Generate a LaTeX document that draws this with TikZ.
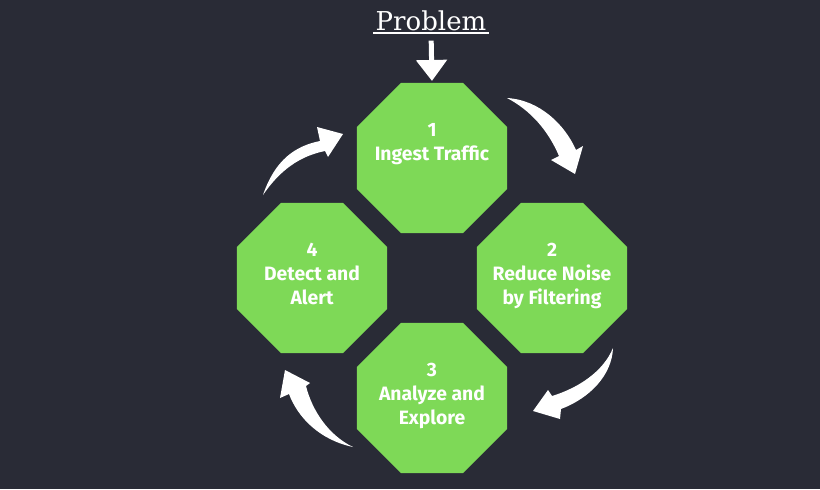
\documentclass[tikz,border=0pt]{standalone}
\usepackage{fontspec}
\setmainfont{Fira Sans}
\newfontfamily\titlefont{DejaVu Serif}
\usetikzlibrary{positioning,shapes.geometric,arrows.meta}
\definecolor{bgdark}{HTML}{292B36}
\definecolor{stepgreen}{HTML}{7ED957}
\tikzset{
  octa/.style={regular polygon, regular polygon sides=8, minimum size=121.8pt, fill=stepgreen, draw=none, inner sep=0pt, outer sep=0pt},
  steplabel/.style={anchor=north, align=center, text=white, font=\bfseries\fontsize{14.5}{18}\selectfont, inner sep=0pt},
  turnarrow/.style={fill=white, draw=none}
}
\begin{document}
\begin{tikzpicture}[x=0.75pt, y=-0.75pt, node distance=90pt and 90pt, on grid]

% \draw[step=20,gray,very thin] (0,0) grid (820,489);
        \fill[bgdark] (0,0) rectangle (820,489);
        \useasboundingbox (0,0) rectangle (820,489);

        \node[octa] (o1) at (432,158) {};
        \node[octa, below right=of o1] (o2) {};
        \node[octa, below left=of o2] (o3) {};
        \node[octa, above left=of o3] (o4) {};

        \node[steplabel] (t1) at ([yshift=-30pt]o1.north) {1\\Ingest Traffic};
        \node[steplabel] (t2) at ([yshift=-30pt]o2.north) {2\\Reduce Noise\\by Filtering};
        \node[steplabel] (t3) at ([yshift=-30pt]o3.north) {3\\Analyze and\\Explore};
        \node[steplabel] (t4) at ([yshift=-30pt]o4.north) {4\\Detect and\\Alert};

        \node (problem) [anchor=base, inner sep=0pt, text=white, font=\titlefont\fontsize{19.5}{22}\selectfont] at (431,30) {Problem};
        \draw[white, line width=1.5pt] ([xshift=-1.5pt,yshift=-2.6pt]problem.base west) -- ([xshift=1.5pt,yshift=-2.6pt]problem.base east);
        \draw[white, line width=3.75pt, -{Triangle[width=22.5pt,length=15.75pt]}, shorten <=7.5pt, shorten >=1.5pt] (problem.south) -- (o1.north);

        % curved arrows round the cycle
        \fill[turnarrow] (507,98) .. controls (540,100) and (565,125) .. (576,150) -- (583,146) -- (575,174) -- (551,160) -- (559,156) .. controls (548,130) and (530,110) .. cycle;
        \fill[turnarrow] (613,348) .. controls (612,375) and (590,398) .. (561,409) -- (560,419) -- (533,411) -- (548,390) -- (552,396) .. controls (578,388) and (603,372) .. cycle;
        \fill[turnarrow] (353,447) .. controls (320,440) and (298,418) .. (289,394) -- (280,398) -- (285,370) -- (310,383) -- (306,386) .. controls (312,410) and (328,435) .. cycle;
        \fill[turnarrow] (263,195) .. controls (275,160) and (295,146) .. (320,141) -- (317,127) -- (343,134) -- (328,157) -- (325,151) .. controls (300,156) and (280,170) .. cycle;

\end{tikzpicture}
\end{document}
